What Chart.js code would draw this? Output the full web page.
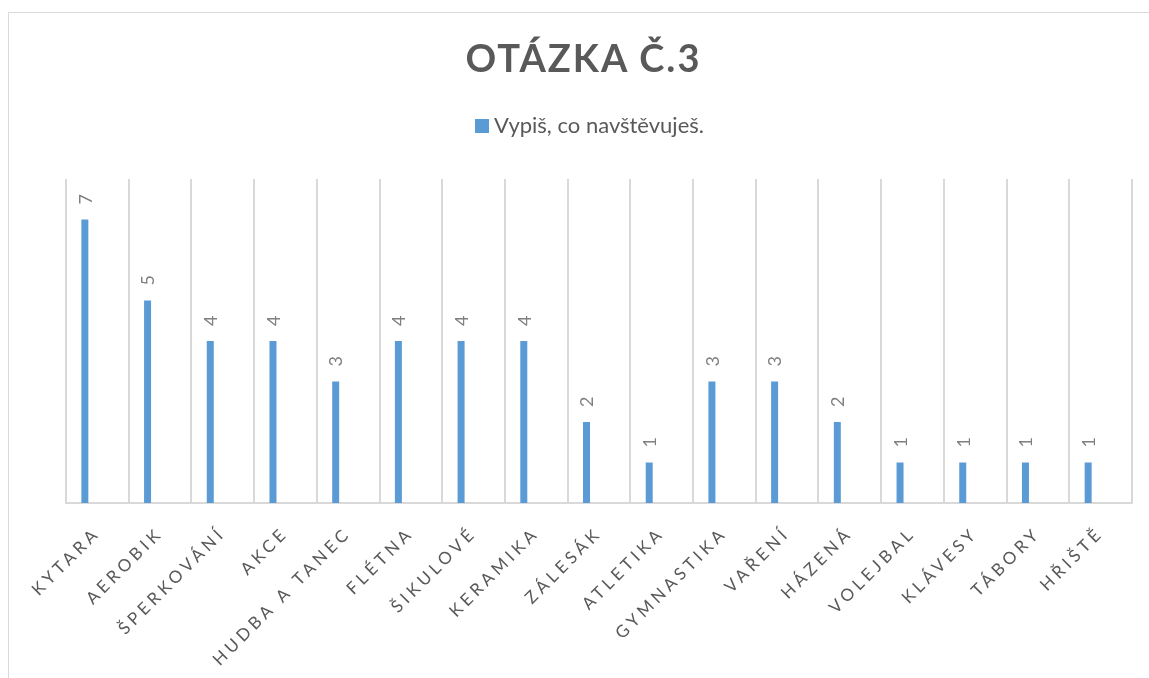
<!DOCTYPE html>
<html>
<head>
<meta charset="utf-8">
<script src="https://cdn.jsdelivr.net/npm/chart.js@4.4.1/dist/chart.umd.min.js"></script>
<style>
  html, body { margin: 0; padding: 0; background: #fff; overflow: hidden; }
  #wrap { position: relative; width: 1149px; height: 678px; }
  #frame { position: absolute; left: 8px; top: 12px; width: 1200px; height: 720px; border: 1px solid #d9d9d9; box-sizing: border-box; }
  #title { position: absolute; left: 0; top: 38px; width: 1167px; text-align: center; font: bold 38px Lato, sans-serif; line-height: 38px; letter-spacing: 2px; color: #595959; }
  #legend { position: absolute; left: 0; top: 114px; width: 1179px; text-align: center; font: 22px Lato, sans-serif; line-height: 22px; color: #595959; }
  #legend .box { display: inline-block; width: 14px; height: 14px; background: #5b9bd5; margin-right: 5px; }
  canvas { position: absolute; left: 0; top: 0; }
</style>
</head>
<body>
<div id="wrap">
  <div id="frame"></div>
  <canvas id="chart" width="1149" height="678"></canvas>
  <div id="title">OTÁZKA Č.3</div>
  <div id="legend"><span class="box"></span>Vypiš, co navštěvuješ.</div>
</div>
<script>
// data
const activities = ['KYTARA', 'AEROBIK', 'ŠPERKOVÁNÍ', 'AKCE', 'HUDBA A TANEC', 'FLÉTNA', 'ŠIKULOVÉ',
  'KERAMIKA', 'ZÁLESÁK', 'ATLETIKA', 'GYMNASTIKA', 'VAŘENÍ', 'HÁZENÁ', 'VOLEJBAL', 'KLÁVESY', 'TÁBORY', 'HŘIŠTĚ'];
const counts = [7, 5, 4, 4, 3, 4, 4, 4, 2, 1, 3, 3, 2, 1, 1, 1, 1];
const seriesName = 'Vypiš, co navštěvuješ.';
// the original sheet has a second, empty series next to it (pushes the bars left in each slot)
const emptySeries = activities.map(() => null);

// rotated value labels above the bars, then letter spacing for the axis labels
const valueLabels = {
  id: 'valueLabels',
  afterDatasetsDraw(chart) {
    const ctx = chart.ctx;
    const meta = chart.getDatasetMeta(0);
    ctx.save();
    ctx.font = '18px Lato';
    ctx.fillStyle = '#808080';
    ctx.textAlign = 'left';
    ctx.textBaseline = 'middle';
    meta.data.forEach((bar, i) => {
      ctx.save();
      ctx.translate(bar.x + 1, bar.y - 15);
      ctx.rotate(-Math.PI / 2);
      ctx.fillText(String(counts[i]), 0, 0);
      ctx.restore();
    });
    ctx.restore();
    ctx.letterSpacing = '4px';
  },
  afterDraw(chart) {
    chart.ctx.letterSpacing = '0px';
  }
};

new Chart(document.getElementById('chart'), {
  type: 'bar',
  data: {
    labels: activities,
    datasets: [
      { label: seriesName, data: counts, backgroundColor: '#5b9bd5',
        categoryPercentage: 0.797, barPercentage: 0.28 },
      { label: '', data: emptySeries, backgroundColor: '#ed7d31',
        categoryPercentage: 0.797, barPercentage: 0.28 }
    ]
  },
  options: {
    responsive: false,
    animation: false,
    layout: { padding: { top: 179, left: 66, right: 17, bottom: 0 } },
    plugins: {
      legend: { display: false },
      tooltip: { enabled: false }
    },
    scales: {
      x: {
        grid: { offset: true, color: '#d9d9d9', lineWidth: 2, drawTicks: false },
        border: { color: '#d9d9d9', width: 2 },
        ticks: {
          autoSkip: false, minRotation: 45, maxRotation: 45,
          color: '#595959', font: { family: 'Lato', size: 17 }, padding: 20, z: 1
        },
        afterFit(scale) { scale.height = 175; }
      },
      y: { display: false, min: 0, max: 8 }
    }
  },
  plugins: [valueLabels]
});
</script>
</body>
</html>
